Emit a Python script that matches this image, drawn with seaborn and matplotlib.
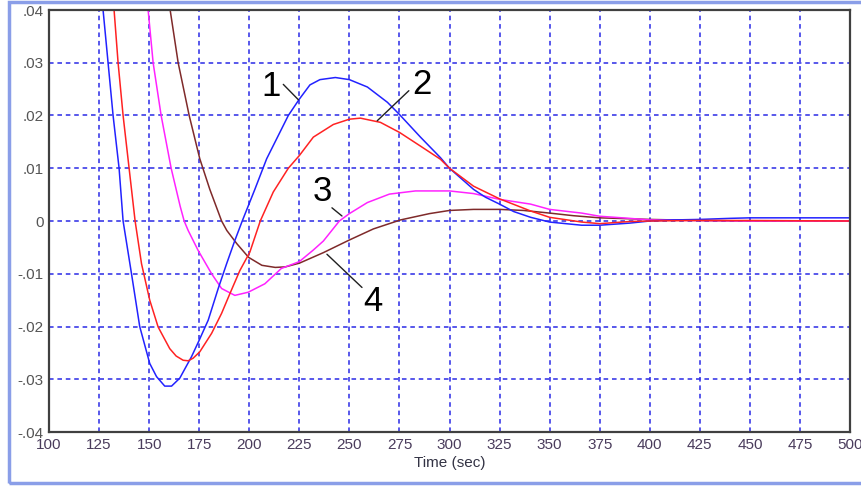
import matplotlib
matplotlib.use("Agg")
import matplotlib.pyplot as plt
import matplotlib.patches as mpatches
import seaborn as sns

# curve 1 (blue)
t1 = [100, 127, 129.5, 132, 135, 137, 141.2, 145.3, 150.3, 153.7, 157.8, 161.2, 165.3,
      171.2, 175, 179.5, 184.5, 188.7, 192.8, 196.5, 202.8, 208.7, 214.5, 219.5, 225,
      230.3, 235.3, 243, 250, 259, 269, 275, 285.5, 295.5, 300, 312, 318, 325, 332,
      340.5, 350, 366, 375, 390, 400, 412, 425, 440, 450, 475, 500]
y1 = [0.04, 0.04, 0.03, 0.02, 0.01, 0.0, -0.01, -0.02, -0.027, -0.0295, -0.0313,
      -0.0313, -0.0298, -0.0257, -0.0226, -0.0188, -0.0128, -0.0081, -0.0037, 0.0,
      0.006, 0.0118, 0.0162, 0.02, 0.0231, 0.0258, 0.0268, 0.0272, 0.0268, 0.0254,
      0.0225, 0.0202, 0.0159, 0.012, 0.01, 0.006, 0.0045, 0.0032, 0.0018, 0.0007,
      -0.0002, -0.0008, -0.0008, -0.0004, 0.0, 0.0002, 0.0003, 0.0005, 0.0006,
      0.0006, 0.0006]

# curve 2 (red)
t2 = [100, 132.5, 134.5, 137, 140, 143, 146.2, 150.3, 154.5, 160.3, 163.5, 167, 169.5,
      172, 175.3, 181.2, 186.2, 190.3, 195.3, 200.3, 205.5, 212, 219.5, 225, 232, 242,
      250, 255.5, 265.5, 275, 285.5, 295.5, 300, 312, 325, 340.5, 350, 366, 375, 390,
      400, 425, 450, 500]
y2 = [0.04, 0.04, 0.03, 0.02, 0.01, 0.0, -0.0081, -0.015, -0.0201, -0.0242, -0.0256,
      -0.0264, -0.0265, -0.026, -0.0248, -0.0213, -0.0175, -0.0138, -0.0094, -0.0059,
      0.0, 0.0055, 0.01, 0.0124, 0.0159, 0.0183, 0.0193, 0.0195, 0.0187, 0.0168,
      0.0142, 0.0117, 0.01, 0.0066, 0.0042, 0.0019, 0.0007, -0.0002, -0.0005,
      -0.0001, 0.0, 0.0001, 0.0001, 0.0]

# curve 3 (magenta)
t3 = [100, 149.5, 152, 156, 161, 165.5, 167.5, 169.5, 174.5, 181.2, 186.2, 192.8,
      199.5, 207.8, 216, 225, 232, 237, 245, 250, 259, 270, 283, 295, 300, 312, 325,
      340.5, 350, 366, 375, 390, 400, 425, 450, 500]
y3 = [0.04, 0.04, 0.03, 0.02, 0.01, 0.0028, 0.0, -0.0018, -0.0056, -0.01, -0.0128,
      -0.0141, -0.0135, -0.0119, -0.009, -0.0077, -0.0055, -0.0038, 0.0, 0.0014,
      0.0035, 0.0051, 0.0057, 0.0057, 0.0057, 0.0052, 0.0041, 0.0032, 0.0022,
      0.0015, 0.0009, 0.0005, 0.0002, 0.0001, 0.0, 0.0]

# curve 4 (brown)
t4 = [100, 160.5, 164.5, 170, 175.3, 180.3, 186.2, 188.8, 193.8, 199.7, 206.3, 213,
      218, 225, 237, 250, 262, 275.5, 290, 300, 312, 325, 337, 350, 362, 375, 400,
      425, 450, 500]
y4 = [0.04, 0.04, 0.03, 0.02, 0.0118, 0.006, 0.0, -0.0018, -0.0043, -0.0069, -0.0084,
      -0.0088, -0.0087, -0.008, -0.006, -0.0036, -0.0015, 0.0002, 0.0014, 0.002,
      0.0022, 0.0022, 0.002, 0.0015, 0.001, 0.0006, 0.0003, 0.0001, 0.0, 0.0]

x_ticks = [100, 125, 150, 175, 200, 225, 250, 275, 300, 325, 350, 375, 400, 425, 450, 475, 500]
y_ticks = [-0.04, -0.03, -0.02, -0.01, 0, 0.01, 0.02, 0.03, 0.04]
y_tick_labels = ["-.04", "-.03", "-.02", "-.01", "0", ".01", ".02", ".03", ".04"]

# curve labels: (text, text position, leader start, leader end)
labels = [
    ("1", (211, 0.0255), (217, 0.0259), (224.5, 0.0230)),
    ("2", (286, 0.0259), (279.7, 0.0247), (263.9, 0.0190)),
    ("3", (236.5, 0.0056), (241.3, 0.0025), (246.3, 0.00095)),
    ("4", (261.5, -0.0152), (256.3, -0.0126), (238.8, -0.0063)),
]

sns.set_style("white")
plt.rcParams["font.family"] = ["Liberation Sans Narrow", "Liberation Sans", "DejaVu Sans"]

fig = plt.figure(figsize=(8.61, 4.86), dpi=100)
fig.patch.set_facecolor("white")
ax = fig.add_axes([49 / 861, 54 / 486, 801 / 861, 422 / 486])

# light blue window frame
fig.patches.append(mpatches.Rectangle((9 / 861, 3 / 486), 1.2, 1 - 5 / 486,
                                      transform=fig.transFigure, fill=False,
                                      edgecolor="#8a9ee8", linewidth=2.5))

sns.lineplot(x=t4, y=y4, color="#7f2a2a", lw=1.1, sort=False, ax=ax)
sns.lineplot(x=t3, y=y3, color="#ff22ff", lw=1.1, sort=False, ax=ax)
sns.lineplot(x=t1, y=y1, color="#2222ff", lw=1.1, sort=False, ax=ax)
sns.lineplot(x=t2, y=y2, color="#ff2222", lw=1.1, sort=False, ax=ax)

ax.set_xlim(100, 500)
ax.set_ylim(-0.04, 0.04)
ax.set_xticks(x_ticks)
ax.set_xticklabels([str(v) for v in x_ticks], color="#4a3c5c", fontsize=11)
ax.set_yticks(y_ticks)
ax.set_yticklabels(y_tick_labels, color="#555555", fontsize=11)
ax.tick_params(length=0, pad=4)
ax.grid(True, color="#2a2ae6", linestyle=(0, (3, 2.5)), linewidth=1.1)
for s in ax.spines.values():
    s.set_color("#404040")
    s.set_linewidth(1.6)
ax.set_xlabel("Time (sec)", fontsize=11, color="#333344", labelpad=3)
ax.set_ylabel("")

for txt, pos, a, b in labels:
    ax.text(pos[0], pos[1], txt, fontsize=25, ha="center", va="center",
            color="black", family=["Liberation Sans", "DejaVu Sans"])
    ax.plot([a[0], b[0]], [a[1], b[1]], color="#202020", lw=1.0)

fig.savefig("out.png", dpi=100)
